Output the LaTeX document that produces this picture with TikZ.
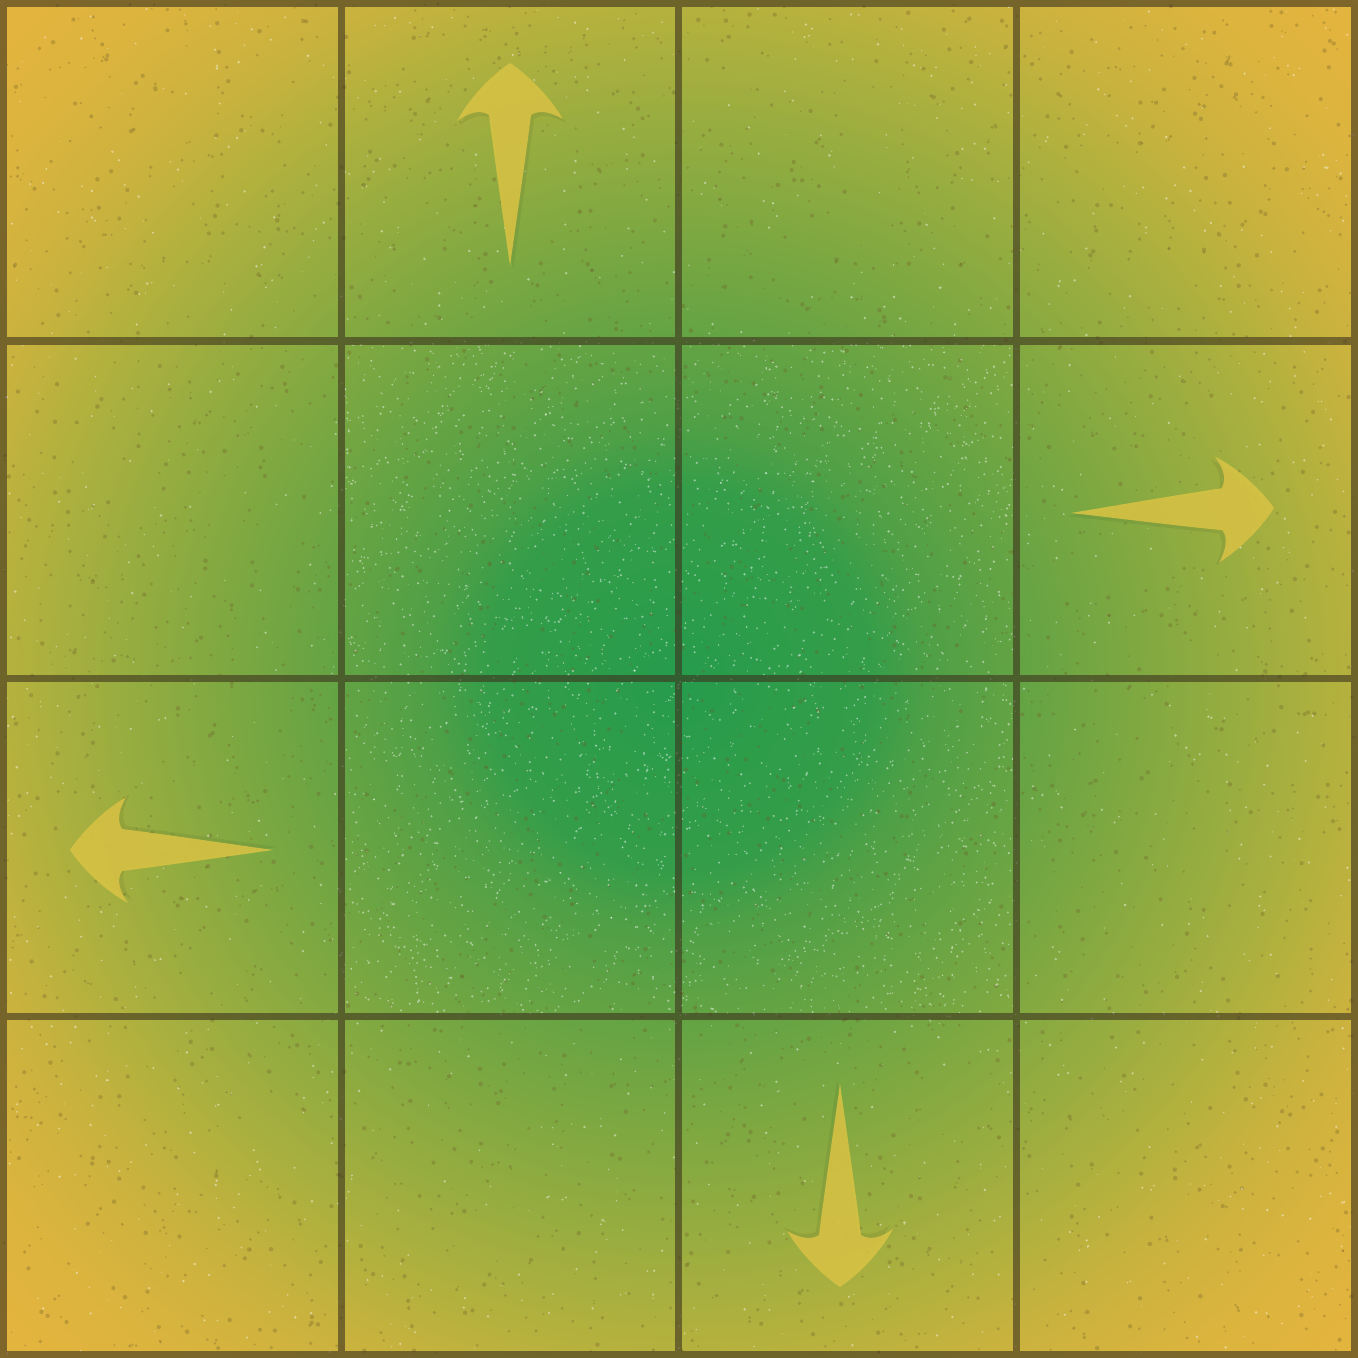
\documentclass[tikz,border=0pt]{standalone}
\pgfdeclareradialshading{bgshade}{\pgfpoint{0bp}{0bp}}{%
 rgb(0bp)=(0.149,0.612,0.298);
 rgb(7bp)=(0.204,0.616,0.286);
 rgb(9.28bp)=(0.31,0.627,0.275);
 rgb(15bp)=(0.451,0.651,0.259);
 rgb(20bp)=(0.58,0.675,0.251);
 rgb(24.2bp)=(0.698,0.694,0.243);
 rgb(26.9bp)=(0.784,0.698,0.243);
 rgb(30.9bp)=(0.855,0.706,0.243);
 rgb(34.2bp)=(0.89,0.706,0.243);
 rgb(36bp)=(0.894,0.706,0.243);
 rgb(50bp)=(0.894,0.706,0.243)}
\definecolor{gridcol}{RGB}{60,50,30}
\definecolor{arrowcol}{RGB}{214,194,68}
\definecolor{fleckcol}{RGB}{110,90,40}
\tikzset{
  gridline/.style={draw=gridcol,draw opacity=0.6,line width=0.7mm},
  arrowfill/.style={fill=arrowcol,fill opacity=0.9},
  arrowshadow/.style={fill=black,fill opacity=0.06},
  fleck/.style={fill=fleckcol,fill opacity=0.3},
  sparkle/.style={fill=white,fill opacity=0.45},
  yarrow/.pic={
    \fill[arrowshadow,shift={(3,4)}] (0,0) .. controls (18,12) and (40,34) .. (53,56)
      .. controls (42,50) and (30,46) .. (21,52)
      .. controls (15,100) and (6,160) .. (0,203)
      .. controls (-6,160) and (-15,100) .. (-21,52)
      .. controls (-30,46) and (-42,50) .. (-53,58)
      .. controls (-40,34) and (-18,12) .. (0,0) -- cycle;
    \fill[arrowfill] (0,0) .. controls (18,12) and (40,34) .. (53,56)
      .. controls (42,50) and (30,46) .. (21,52)
      .. controls (15,100) and (6,160) .. (0,203)
      .. controls (-6,160) and (-15,100) .. (-21,52)
      .. controls (-30,46) and (-42,50) .. (-53,58)
      .. controls (-40,34) and (-18,12) .. (0,0) -- cycle;
  }
}
\begin{document}
\begin{tikzpicture}[x=0.01cm,y=-0.01cm]
\useasboundingbox (0,0) rectangle (1358,1358);
% background gradient
\shade[shading=bgshade] (0,0) rectangle (1358,1358);
% speckle texture
\pgfmathsetseed{4242}
\foreach \k in {1,...,7}{
  \fill[fleck] \foreach \i in {1,...,500}{
    ({rnd*1350+4},{rnd*1350+4}) circle[radius={0.8+rnd*1.5}]
  };
}
\foreach \k in {1,...,3}{
  \fill[sparkle] \foreach \i in {1,...,500}{
    ({rnd*1350+4},{rnd*1350+4}) circle[radius={0.5+rnd*0.9}]
  };
}
\foreach \k in {1,...,6}{
  \fill[sparkle] \foreach \i in {1,...,500}{
    ({rnd*676+341},{rnd*676+341}) circle[radius={0.5+rnd*0.8}]
  };
}
% arrows
\pic at (510,63) {yarrow};
\pic[rotate=-88.6] at (1274,508) {yarrow};
\pic[rotate=90] at (70,850) {yarrow};
\pic[rotate=180] at (840,1287) {yarrow};
% grid
\draw[gridline] (3.5,3.5) rectangle (1354.5,1354.5)
  (341,3.5) -- (341,1354.5) (678,3.5) -- (678,1354.5) (1016,3.5) -- (1016,1354.5)
  (3.5,341) -- (1354.5,341) (3.5,678) -- (1354.5,678) (3.5,1016) -- (1354.5,1016);
\end{tikzpicture}
\end{document}
